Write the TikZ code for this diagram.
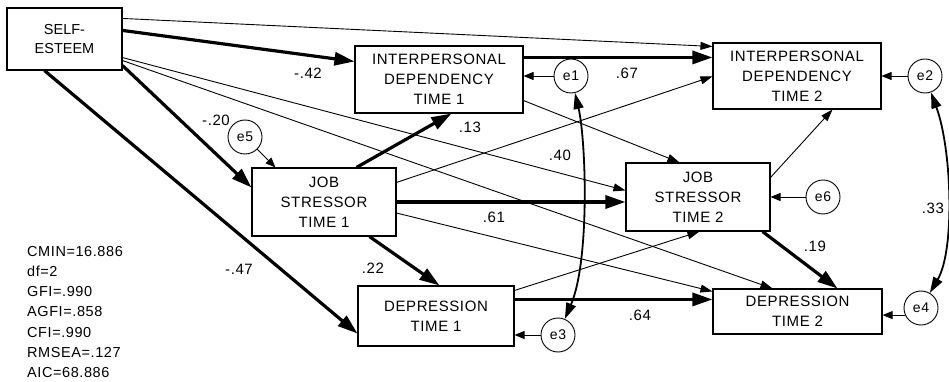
\documentclass[tikz,border=0pt]{standalone}
\usepackage{fontspec}
\setmainfont{Liberation Sans}
\newfontfamily\spacedfont[LetterSpace=4]{Liberation Sans}
\newfontfamily\plainfont{Liberation Sans}
\usetikzlibrary{arrows.meta,calc}

\begin{document}
\begin{tikzpicture}[x=1pt,y=-1pt,
  box/.style={draw, line width=1.1pt, inner sep=0pt, align=center,
    font=\spacedfont\fontsize{15}{20}\selectfont},
  err/.style={draw, circle, line width=0.9pt, minimum size=34pt, inner sep=0pt,
    font=\spacedfont\fontsize{14}{15}\selectfont},
  coef/.style={font=\spacedfont\fontsize{15}{16}\selectfont, inner sep=0pt},
  thinpath/.style={line width=0.9pt, -{Triangle[length=12pt,width=8pt]}},
  thickpath/.style={line width=3.2pt, -{Triangle[length=20pt,width=13pt]}},
  errpath/.style={line width=0.9pt, -{Triangle[length=10pt,width=8pt]}},
  covpath/.style={line width=1.8pt,
    {Triangle[length=16pt,width=10pt]}-{Triangle[length=16pt,width=10pt]}},
]
\useasboundingbox (0,0) rectangle (949,382);

% observed variables
\node[box, minimum width=115pt, minimum height=62pt,
  font=\plainfont\fontsize{14.5}{18.5}\selectfont] (se) at (64.5,39) {SELF-\\ESTEEM};
\node[box, minimum width=168pt, minimum height=67pt] (id1) at (439,79.5) {INTERPERSONAL\\DEPENDENCY\\TIME 1};
\node[box, minimum width=168pt, minimum height=66pt] (id2) at (797,76) {INTERPERSONAL\\DEPENDENCY\\TIME 2};
\node[box, minimum width=144pt, minimum height=68pt] (job1) at (324,202) {JOB\\STRESSOR\\TIME 1};
\node[box, minimum width=144pt, minimum height=68pt] (job2) at (698,197) {JOB\\STRESSOR\\TIME 2};
\node[box, minimum width=156pt, minimum height=60pt] (dep1) at (436,316) {DEPRESSION\\TIME 1};
\node[box, minimum width=169pt, minimum height=45pt] (dep2) at (797.5,311.5) {DEPRESSION\\TIME 2};

% error terms
\node[err] (e1) at (571,76) {e1};
\node[err] (e2) at (925,76) {e2};
\node[err] (e3) at (558,335) {e3};
\node[err] (e4) at (921,308) {e4};
\node[err] (e5) at (245,137) {e5};
\node[err] (e6) at (823,197) {e6};

% paths from self-esteem
\draw[thinpath] ($(se.north east)+(0,11)$) -- ($(id2.north west)+(0,4)$);
\draw[thickpath] ($(se.north east)+(0,23)$) -- ($(id1.north west)+(0,16)$);
\draw[thinpath] ($(se.south east)+(0,-13)$) -- ($(job2.north west)+(0,28)$);
\draw[thinpath] ($(se.south east)+(0,-10)$) -- ($(dep2.north west)+(60,0)$);
\draw[thickpath] ($(se.south east)+(0,-5)$) -- ($(job1.north west)+(0,20)$);
\draw[thickpath] ($(se.south west)+(38,0)$) -- ($(dep1.south west)+(0,-13)$);

% paths from interpersonal dependency, time 1
\coordinate (id1out) at ($(id1.north east)+(0,12)$);
\draw[thickpath] (id1out) -- (id1out -| id2.west);
\draw[thinpath] ($(id1.south east)+(0,-13)$) -- ($(job2.north west)+(54,0)$);

% paths from job stressor, time 1
\draw[thickpath] ($(job1.north west)+(105,0)$) -- ($(id1.south west)+(97,0)$);
\draw[thinpath] ($(job1.north east)+(0,15)$) -- ($(id2.north west)+(0,34)$);
\draw[thickpath] (job1.east) -- (job1.east -| job2.west);
\draw[thinpath] ($(job1.east)+(0,11)$) -- ($(dep2.north west)+(0,3)$);
\draw[thickpath] ($(job1.south west)+(118,0)$) -- ($(dep1.north west)+(82,0)$);

% paths from job stressor, time 2
\draw[thinpath] ($(job2.north east)+(0,15)$) -- ($(id2.south west)+(120,0)$);
\draw[thickpath] ($(job2.south east)+(-8,0)$) -- ($(dep2.north west)+(125,0)$);

% paths from depression, time 1
\draw[thinpath] ($(dep1.north east)+(0,5)$) -- ($(job2.south west)+(74,0)$);
\coordinate (dep1out) at ($(dep1.north east)+(0,14)$);
\draw[thickpath] (dep1out) -- (dep1out -| dep2.west);

% error paths
\draw[errpath] (e1) -- (e1 -| id1.east);
\draw[errpath] (e2) -- (e2 -| id2.east);
\draw[errpath] (e3) -- (e3 -| dep1.east);
\draw[errpath] (e4.204) -- (e4.204 -| dep2.east);
\draw[errpath] (e5) -- ($(job1.north west)+(24,0)$);
\draw[errpath] (e6) -- (e6 -| job2.east);

% error covariances
\draw[covpath] (e1) .. controls (586,140) and (590,260) .. (e3);
\draw[covpath] (e2) .. controls (952,150) and (955,250) .. (e4);

% coefficients
\node[coef] (c1) at (308,73) {-.42};
\node[coef] (c2) at (627,73) {.67};
\node[coef] (c3) at (470,127) {.13};
\node[coef] (c4) at (560,155) {.40};
\node[coef] (c5) at (216,120) {-.20};
\node[coef] (c6) at (494,217) {.61};
\node[coef] (c7) at (373,268) {.22};
\node[coef] (c8) at (239,269) {-.47};
\node[coef] (c9) at (640,315) {.64};
\node[coef] (c10) at (815,246) {.19};
\node[coef] (c11) at (933,208) {.33};

% fit statistics
\node[font=\spacedfont\fontsize{14.5}{20.25}\selectfont, align=left, anchor=west, inner sep=0pt]
  (fit) at (27,312) {CMIN=16.886\\df=2\\GFI=.990\\AGFI=.858\\CFI=.990\\RMSEA=.127\\AIC=68.886};
\end{tikzpicture}
\end{document}
